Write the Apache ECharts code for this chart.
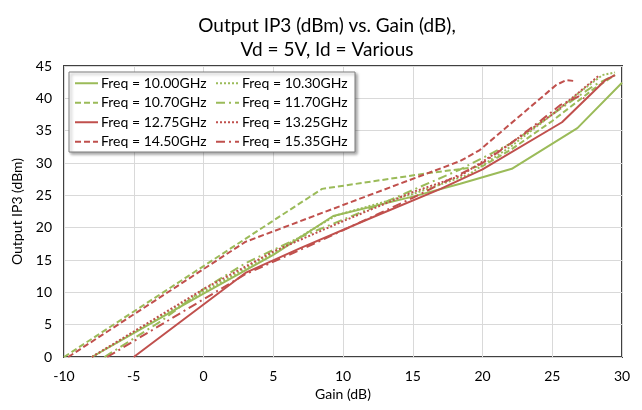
<!DOCTYPE html>
<html>
<head>
<meta charset="utf-8">
<script src="https://cdn.jsdelivr.net/npm/echarts@6/dist/echarts.min.js"></script>
<style>
  html, body { margin: 0; padding: 0; background: #fff; }
  #chart { width: 642px; height: 410px; }
</style>
</head>
<body>
<div id="chart"></div>
<script>
// [gain dB, OIP3 dBm]
const f1000 = [[-8.0, 0], [-5, 3.7], [0, 9.8], [5, 15.8], [9.3, 21.8], [15, 24.8], [18.4, 26.8], [22.1, 29.1], [26.8, 35.4], [30, 42.4]]
const f1030 = [[-8.0, 0], [0, 10.1], [5, 16.1], [9.5, 21.9], [15, 25.2], [19, 28.2], [22, 32.5], [25, 37.5], [27, 41], [28.6, 43.6], [29.5, 44]]
const f1070 = [[-10, 0], [8.5, 26], [16, 28.4], [20, 29.5], [22, 32], [25, 36.5], [28, 41.5], [29.5, 43.6]]
const f1170 = [[-7.1, 0], [-3, 5.6], [0, 10.5], [3, 14.5], [6.9, 18.5], [12, 23], [18.4, 29], [22, 33], [25, 37.5], [28, 42], [29.5, 43.6]]
const f1275 = [[-5, 0], [3, 13], [6.9, 16.8], [12, 21.5], [17, 26], [20, 29], [25.7, 36.3], [28.8, 42.8], [29.5, 43.6]]
const f1325 = [[-8.0, 0], [0, 10.5], [5, 16.3], [10, 21], [15, 25.5], [18.4, 28], [22, 33], [25, 37.5], [28.4, 43.6]]
const f1450 = [[-9.7, 0], [3, 17.8], [10, 23.5], [18.4, 30.3], [19.8, 32], [24.7, 41], [25.3, 42.1], [26, 42.8], [26.5, 42.7]]
const f1535 = [[-6.9, 0], [3, 12.8], [8, 17.6], [15, 24.6], [20, 30], [22, 33], [24.2, 36.6], [25.6, 39], [26.9, 40.3], [27.3, 40]]

const names = ['Freq = 10.00GHz', 'Freq = 10.30GHz', 'Freq = 10.70GHz', 'Freq = 11.70GHz',
  'Freq = 12.75GHz', 'Freq = 13.25GHz', 'Freq = 14.50GHz', 'Freq = 15.35GHz']
const xTicks = [-10, 30, 5]
const yTicks = [0, 45, 5]

const green = '#9bbb59'
const red = '#c0504d'
const solid = 'solid'
const dashed = [6, 3]
const dotted = [2, 2]
const dashDot = [9, 4, 2, 4]

const looks = [
  [green, solid], [green, dotted], [green, dashed], [green, dashDot],
  [red, solid], [red, dotted], [red, dashed], [red, dashDot]
]
const datas = [f1000, f1030, f1070, f1170, f1275, f1325, f1450, f1535]

const font = 'Lato, "Open Sans", sans-serif'

const chart = echarts.init(document.getElementById('chart'))
chart.setOption({
  animation: false,
  title: {
    text: 'Output IP3 (dBm) vs. Gain (dB),\nVd = 5V, Id = Various',
    left: 322,
    textAlign: 'center',
    top: 9,
    textStyle: { fontFamily: font, fontSize: 19, fontWeight: 'normal', color: '#000', lineHeight: 24 }
  },
  legend: {
    left: 69,
    top: 72,
    width: 284,
    orient: 'horizontal',
    itemWidth: 23,
    itemHeight: 10,
    itemGap: 5,
    padding: [4, 4, 3, 5],
    backgroundColor: '#fff',
    borderColor: '#7f7f7f',
    borderWidth: 1,
    shadowColor: 'rgba(0,0,0,0.35)',
    shadowBlur: 3,
    shadowOffsetX: 2,
    shadowOffsetY: 2,
    itemStyle: { opacity: 0 },
    textStyle: { fontFamily: font, fontSize: 14, color: '#000', width: 109, lineHeight: 14.5, padding: [0, 0, 0, -2] },
    data: names
  },
  grid: {
    left: 64, right: 20, top: 66, bottom: 53,
    show: true, borderColor: '#404040', borderWidth: 2
  },
  xAxis: {
    type: 'value',
    min: xTicks[0], max: xTicks[1], interval: xTicks[2],
    name: 'Gain (dB)',
    nameLocation: 'middle',
    nameGap: 29,
    nameTextStyle: { fontFamily: font, fontSize: 14, color: '#000' },
    axisLine: { show: false },
    axisTick: { show: false },
    axisLabel: { fontFamily: font, fontSize: 14, color: '#000', margin: 12 },
    splitLine: { lineStyle: { color: '#d9d9d9', width: 1 } }
  },
  yAxis: {
    type: 'value',
    min: yTicks[0], max: yTicks[1], interval: yTicks[2],
    name: 'Output IP3 (dBm)',
    nameLocation: 'middle',
    nameGap: 38,
    nameTextStyle: { fontFamily: font, fontSize: 14, color: '#000' },
    axisLine: { show: false },
    axisTick: { show: false },
    axisLabel: { fontFamily: font, fontSize: 14, color: '#000', margin: 12 },
    splitLine: { lineStyle: { color: '#d9d9d9', width: 1 } }
  },
  series: names.map((n, i) => ({
    name: n,
    type: 'line',
    data: datas[i],
    symbol: 'none',
    clip: true,
    color: looks[i][0],
    lineStyle: { color: looks[i][0], width: 2, type: looks[i][1] }
  }))
})
</script>
</body>
</html>
